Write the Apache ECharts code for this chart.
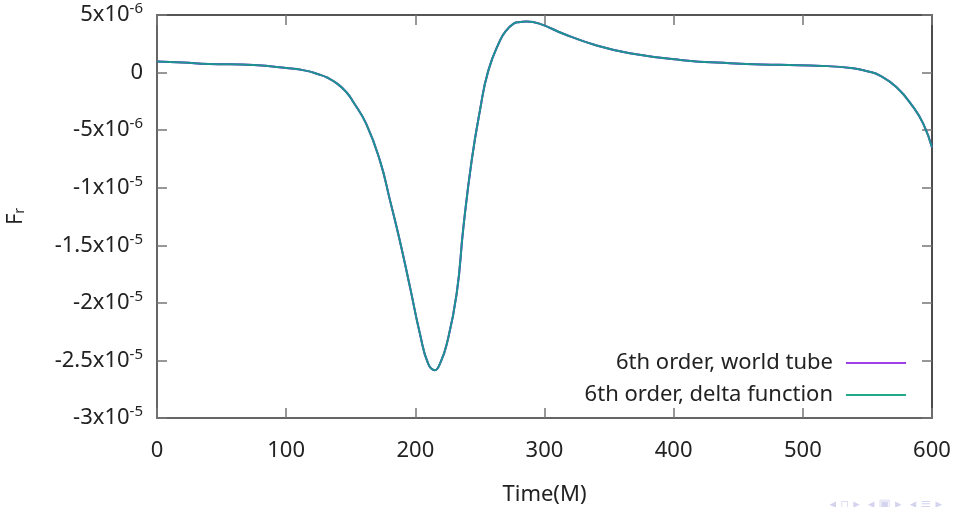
<!DOCTYPE html>
<html>
<head>
<meta charset="utf-8">
<script src="https://cdn.jsdelivr.net/npm/echarts@6/dist/echarts.min.js"></script>
<style>
  html, body { margin: 0; padding: 0; background: #ffffff; }
  #chart { width: 956px; height: 507px; }
</style>
</head>
<body>
<div id="chart"></div>
<script>
// Radial self-force F_r versus time, two computations of the 6th order result
const times = [0, 20, 40, 75, 100, 115, 125, 132, 140, 147, 152, 162, 172.6, 180.4, 188, 196, 203.6, 210, 215.2, 219, 224.3, 232, 237.2, 243.6, 250, 256.5, 265.5, 270, 275.8, 280, 286, 296.5, 314.6, 340.4, 366, 405, 443.6, 482, 515, 539, 550, 559.7, 572.6, 585.5, 593.3, 600];
const worldTube = [0.96e-6, 0.87e-6, 0.75e-6, 0.65e-6, 0.4e-6, 0.17e-6, -0.15e-6, -0.45e-6, -1.0e-6, -1.75e-6, -2.55e-6, -4.46e-6, -7.65e-6, -11.1e-6, -14.6e-6, -18.7e-6, -22.7e-6, -25.3e-6, -25.85e-6, -25.3e-6, -23.6e-6, -19.2e-6, -13.45e-6, -7.65e-6, -3.3e-6, 0.17e-6, 2.78e-6, 3.6e-6, 4.23e-6, 4.38e-6, 4.43e-6, 4.23e-6, 3.37e-6, 2.35e-6, 1.68e-6, 1.1e-6, 0.81e-6, 0.67e-6, 0.58e-6, 0.37e-6, 0.11e-6, -0.26e-6, -1.28e-6, -3.0e-6, -4.46e-6, -6.5e-6];
const deltaFunction = [0.96e-6, 0.87e-6, 0.75e-6, 0.65e-6, 0.4e-6, 0.17e-6, -0.15e-6, -0.45e-6, -1.0e-6, -1.75e-6, -2.55e-6, -4.46e-6, -7.65e-6, -11.1e-6, -14.6e-6, -18.7e-6, -22.7e-6, -25.3e-6, -25.85e-6, -25.3e-6, -23.6e-6, -19.2e-6, -13.45e-6, -7.65e-6, -3.3e-6, 0.17e-6, 2.78e-6, 3.6e-6, 4.23e-6, 4.38e-6, 4.43e-6, 4.23e-6, 3.37e-6, 2.35e-6, 1.68e-6, 1.1e-6, 0.81e-6, 0.67e-6, 0.58e-6, 0.37e-6, 0.11e-6, -0.26e-6, -1.28e-6, -3.0e-6, -4.46e-6, -6.5e-6];

const seriesNames = ['6th order, world tube', '6th order, delta function'];

// Axis ranges and tick labels (mantissa, exponent), bottom to top
const xMin = 0, xMax = 600, xStep = 100;
const yMin = -3e-5, yMax = 5e-6, yStep = 5e-6;
const yTickMantissa = ['-3', '-2.5', '-2', '-1.5', '-1', '-5', '0', '5'];
const yTickExponent = ['-5', '-5', '-5', '-5', '-5', '-6', '', '-6'];

const FONT = 'Noto Sans';
const FS = 22;
const pairs = arr => times.map((t, i) => [t, arr[i]]);

function yLabel(v) {
  const i = Math.round((v - yMin) / yStep);
  const m = yTickMantissa[i];
  const e = yTickExponent[i];
  if (m === undefined) return '';
  return e ? m + 'x10{sup|' + e + '}' : m;
}

const frameColor = '#333333';
const tickColor = '#777777';

const chart = echarts.init(document.getElementById('chart'), null, { renderer: 'canvas' });

chart.setOption({
  animation: false,
  backgroundColor: '#ffffff',
  grid: { left: 157, top: 15, right: 24, bottom: 89, containLabel: false, outerBoundsMode: 'none' },
  legend: {
    orient: 'vertical',
    right: 45,
    top: 346,
    align: 'right',
    itemWidth: 60,
    itemHeight: 2,
    itemGap: 8,
    icon: 'rect',
    textStyle: { fontFamily: FONT, fontSize: FS, color: '#222', lineHeight: 24, padding: [0, 8, 0, 0] },
    data: seriesNames
  },
  xAxis: [
    {
      type: 'value', min: xMin, max: xMax, interval: xStep,
      name: 'Time(M)', nameLocation: 'middle', nameGap: 66,
      nameTextStyle: { fontFamily: FONT, fontSize: FS, color: '#222' },
      axisLine: { show: true, onZero: false, lineStyle: { color: frameColor, width: 1.5 } },
      axisTick: { show: true, inside: true, length: 10, lineStyle: { color: tickColor, width: 1.5 } },
      axisLabel: { fontFamily: FONT, fontSize: FS, color: '#222', margin: 22 },
      splitLine: { show: false }
    },
    {
      type: 'value', position: 'top', min: xMin, max: xMax, interval: xStep,
      axisLine: { show: true, onZero: false, lineStyle: { color: '#555', width: 2 } },
      axisTick: { show: true, inside: true, length: 10, lineStyle: { color: tickColor, width: 1.5 } },
      axisLabel: { show: false },
      splitLine: { show: false }
    }
  ],
  yAxis: [
    {
      type: 'value', min: yMin, max: yMax, interval: yStep,
      name: 'F{sub|r}', nameLocation: 'middle', nameGap: 130, nameRotate: 90,
      nameTextStyle: {
        fontFamily: FONT, fontSize: FS, color: '#222',
        rich: { sub: { fontFamily: FONT, fontSize: 14, color: '#222', verticalAlign: 'bottom', padding: [8, 0, 0, 0] } }
      },
      axisLine: { show: true, onZero: false, lineStyle: { color: frameColor, width: 1.5 } },
      axisTick: { show: true, inside: true, length: 10, lineStyle: { color: tickColor, width: 1.5 } },
      axisLabel: {
        fontFamily: FONT, fontSize: FS, color: '#222', margin: 14,
        formatter: yLabel,
        rich: { sup: { fontFamily: FONT, fontSize: 15, color: '#222', verticalAlign: 'top', padding: [0, 0, 12, 0] } }
      },
      splitLine: { show: false }
    },
    {
      type: 'value', position: 'right', min: yMin, max: yMax, interval: yStep,
      axisLine: { show: true, onZero: false, lineStyle: { color: '#111', width: 1.5 } },
      axisTick: { show: true, inside: true, length: 10, lineStyle: { color: tickColor, width: 1.5 } },
      axisLabel: { show: false },
      splitLine: { show: false }
    }
  ],
  series: [
    {
      name: seriesNames[0], type: 'line', data: pairs(worldTube),
      smooth: 0.5, showSymbol: false, color: '#a040e8',
      lineStyle: { width: 2, color: '#9400d3' }
    },
    {
      name: seriesNames[1], type: 'line', data: pairs(deltaFunction),
      smooth: 0.5, showSymbol: false, color: '#20a88a',
      lineStyle: { width: 2, color: '#1a9590' }
    }
  ],
  graphic: [
    {
      type: 'text', right: 14, bottom: -4,
      style: { text: '◂ ▫ ▸  ◂ ▣ ▸  ◂ ≡ ▸', fontFamily: 'DejaVu Sans', fontSize: 13, fill: '#d4d4ee' }
    }
  ]
});
</script>
</body>
</html>
